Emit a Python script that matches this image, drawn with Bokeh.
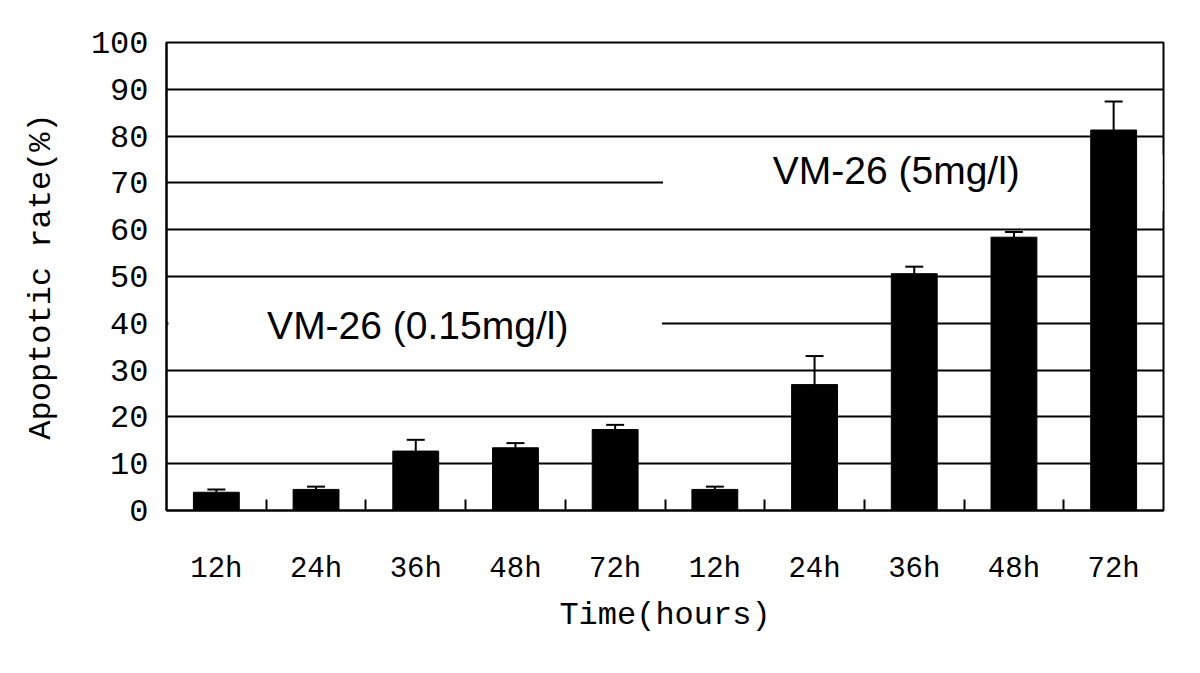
from bokeh.plotting import figure
from bokeh.models import Range1d, FixedTicker, Whisker, ColumnDataSource, Label, TeeHead
from bokeh.embed import file_html
from bokeh.resources import INLINE

# ---- data ----
time_labels = ["12h", "24h", "36h", "48h", "72h", "12h", "24h", "36h", "48h", "72h"]
apoptotic_rate = [3.9, 4.5, 12.7, 13.4, 17.3, 4.5, 26.9, 50.6, 58.4, 81.3]
error_up = [0.6, 0.6, 2.4, 1.0, 1.0, 0.6, 6.1, 1.5, 1.1, 6.1]
group_labels = ["VM-26 (0.15mg/l)", "VM-26 (5mg/l)"]
y_ticks = list(range(0, 101, 10))

positions = list(range(1, len(time_labels) + 1))
src = ColumnDataSource(dict(
    x=positions,
    top=apoptotic_rate,
    upper=[v + e for v, e in zip(apoptotic_rate, error_up)],
    lower=apoptotic_rate,
))

MONO = "Liberation Mono"

p = figure(frame_width=997, frame_height=468,
           x_range=Range1d(0.5, len(time_labels) + 0.5), y_range=Range1d(0, 100),
           output_backend="svg", toolbar_location=None,
           min_border_left=166, min_border_top=42, min_border_right=25, min_border_bottom=140,
           background_fill_color="white", border_fill_color="white")

p.outline_line_color = "black"
p.outline_line_width = 2

# grid
p.xgrid.visible = False
p.ygrid.ticker = FixedTicker(ticks=y_ticks)
p.ygrid.grid_line_color = "black"
p.ygrid.grid_line_width = 2

# white boxes behind the group labels (hide grid lines)
p.quad(left=[0.52], right=[5.47], bottom=[34.5], top=[45.5], fill_color="white", line_color=None)
p.quad(left=[5.48], right=[10.49], bottom=[64], top=[76], fill_color="white", line_color=None)

# bars
p.vbar(x="x", top="top", bottom=0, width=0.46, source=src, fill_color="black", line_color="black")

# error bars (upper only)
w = Whisker(base="x", upper="upper", lower="lower", source=src,
            line_color="black", line_width=2,
            upper_head=TeeHead(size=18, line_color="black", line_width=2),
            lower_head=None)
p.add_layout(w)

# group labels
p.add_layout(Label(x=3.02, y=39.5, text=group_labels[0], text_align="center", text_baseline="middle",
                   text_font="Liberation Sans", text_font_size="39px", text_color="black"))
p.add_layout(Label(x=7.82, y=72.6, text=group_labels[1], text_align="center", text_baseline="middle",
                   text_font="Liberation Sans", text_font_size="39px", text_color="black"))

# x axis
xt = FixedTicker(ticks=positions, minor_ticks=[i + 0.5 for i in positions[:-1]])
p.xaxis.ticker = xt
p.xaxis.major_label_overrides = {i: lab for i, lab in zip(positions, time_labels)}
p.xaxis.major_tick_in = 0
p.xaxis.major_tick_out = 0
p.xaxis.minor_tick_in = 11
p.xaxis.minor_tick_out = 0
p.xaxis.minor_tick_line_width = 2
p.xaxis.minor_tick_line_color = "black"
p.xaxis.axis_line_width = 2
p.xaxis.axis_line_color = "black"
p.xaxis.major_label_text_font = MONO
p.xaxis.major_label_text_font_size = "29px"
p.xaxis.major_label_text_color = "black"
p.xaxis.major_label_standoff = 42
p.xaxis.axis_label = "Time(hours)"
p.xaxis.axis_label_text_font = MONO
p.xaxis.axis_label_text_font_size = "32px"
p.xaxis.axis_label_text_font_style = "normal"
p.xaxis.axis_label_text_color = "black"
p.xaxis.axis_label_standoff = 8

# y axis
p.yaxis.ticker = FixedTicker(ticks=y_ticks)
p.yaxis.major_tick_in = 0
p.yaxis.major_tick_out = 0
p.yaxis.minor_tick_line_color = None
p.yaxis.axis_line_width = 2
p.yaxis.axis_line_color = "black"
p.yaxis.major_label_text_font = MONO
p.yaxis.major_label_text_font_size = "32px"
p.yaxis.major_label_text_color = "black"
p.yaxis.major_label_standoff = 18
p.yaxis.axis_label = "Apoptotic rate(%)"
p.yaxis.axis_label_text_font = MONO
p.yaxis.axis_label_text_font_size = "32px"
p.yaxis.axis_label_text_font_style = "normal"
p.yaxis.axis_label_text_color = "black"
p.yaxis.axis_label_standoff = 28

open("out.html", "w").write(file_html(p, INLINE))
